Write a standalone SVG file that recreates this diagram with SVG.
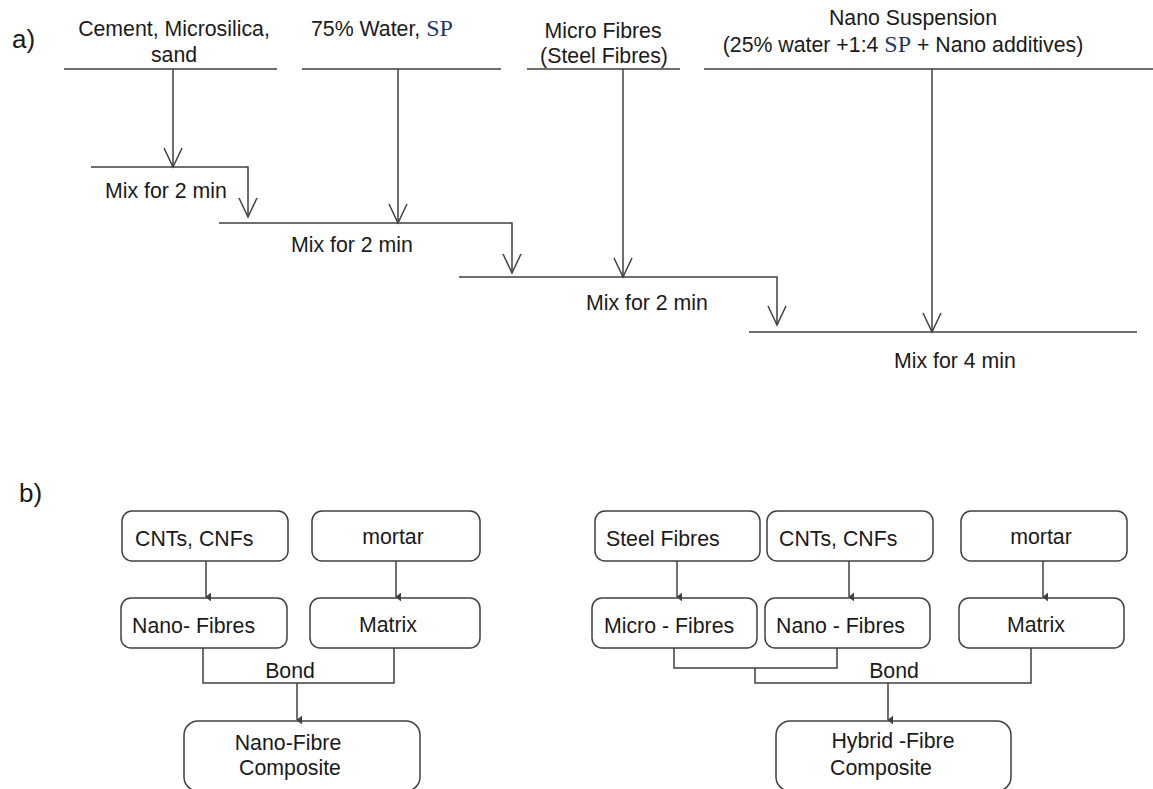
<svg xmlns="http://www.w3.org/2000/svg" width="1153" height="789" viewBox="0 0 1153 789">
<defs>
<style>
text{font-family:"Liberation Sans",Arial,sans-serif;font-size:21.3px;fill:#1a1a1a}
.sp{font-family:"Liberation Serif","Times New Roman",serif;fill:#1f3864;font-size:24px}
.lbl{font-size:26px}
.ln{stroke:#404040;stroke-width:1.5;fill:none}
.box{stroke:#404040;stroke-width:1.5;fill:#fff}
.open{stroke:#404040;stroke-width:1.5;fill:none}
.m{text-anchor:middle}
</style>
<marker id="tri" markerWidth="8" markerHeight="6" refX="4" refY="5" orient="auto-start-reverse" markerUnits="userSpaceOnUse" viewBox="0 0 8 6">
<path d="M0,0 L8,0 L4,5 Z" fill="#404040" stroke="#404040" stroke-width="0.8"/>
</marker>
</defs>
<rect width="1153" height="789" fill="#fff"/>

<text class="lbl" x="12" y="48">a)</text>
<text class="lbl" x="19" y="502">b)</text>

<g id="inputs">
<text class="m" x="174" y="36">Cement, Microsilica,</text>
<text class="m" x="174" y="62">sand</text>
<text x="311" y="36">75% Water, <tspan class="sp">SP</tspan></text>
<text class="m" x="603" y="38">Micro Fibres</text>
<text class="m" x="604" y="63">(Steel Fibres)</text>
<text class="m" x="913" y="25">Nano Suspension</text>
<text class="m" x="903" y="52">(25% water +1:4 <tspan class="sp">SP</tspan> + Nano additives)</text>
</g>

<g id="mix-labels">
<text class="m" x="166" y="198">Mix for 2 min</text>
<text class="m" x="352" y="252">Mix for 2 min</text>
<text class="m" x="647" y="310">Mix for 2 min</text>
<text class="m" x="955" y="368">Mix for 4 min</text>
</g>

<g id="connectors-a">
<path class="ln" d="M64,69H277 M302,69H501 M527,69H680 M704,69H1153"/>
<path class="ln" d="M173,69V167 M91,167H248V217"/>
<path class="ln" d="M398,69V223 M219,223H512V273"/>
<path class="ln" d="M623,69V277 M459,277H777V325"/>
<path class="ln" d="M932,69V332 M749,332H1137"/>
<path class="open" d="M164,148L173,167L182,148 M239,198L248,217L257,198 M389,204L398,223L407,204 M503,254L512,273L521,254 M614,258L623,277L632,258 M768,306L777,325L786,306 M923,313L932,332L941,313"/>
</g>

<g id="node-cnt-l"><rect class="box" x="122" y="511" width="166" height="50" rx="10"/><text x="135" y="546">CNTs, CNFs</text></g>
<g id="node-mortar-l"><rect class="box" x="312" y="511" width="168" height="50" rx="10"/><text class="m" x="393" y="544">mortar</text></g>
<g id="node-nano-l"><rect class="box" x="121" y="598" width="166" height="50" rx="10"/><text x="132" y="633">Nano- Fibres</text></g>
<g id="node-matrix-l"><rect class="box" x="310" y="598" width="170" height="50" rx="10"/><text class="m" x="388" y="632">Matrix</text></g>
<g id="node-comp-l"><rect class="box" x="184" y="721" width="236" height="70" rx="14"/><text class="m" x="288" y="750">Nano-Fibre</text><text class="m" x="290" y="775">Composite</text></g>

<g id="node-steel"><rect class="box" x="595" y="511" width="165" height="50" rx="10"/><text x="606" y="546">Steel Fibres</text></g>
<g id="node-cnt-r"><rect class="box" x="767" y="511" width="166" height="50" rx="10"/><text x="779" y="546">CNTs, CNFs</text></g>
<g id="node-mortar-r"><rect class="box" x="961" y="511" width="166" height="50" rx="10"/><text class="m" x="1041" y="544">mortar</text></g>
<g id="node-micro"><rect class="box" x="592" y="598" width="165" height="50" rx="10"/><text x="604" y="633">Micro - Fibres</text></g>
<g id="node-nano-r"><rect class="box" x="765" y="598" width="165" height="50" rx="10"/><text x="776" y="633">Nano - Fibres</text></g>
<g id="node-matrix-r"><rect class="box" x="959" y="598" width="165" height="50" rx="10"/><text class="m" x="1036" y="632">Matrix</text></g>
<g id="node-comp-r"><rect class="box" x="776" y="721" width="235" height="70" rx="14"/><text class="m" x="893" y="748">Hybrid -Fibre</text><text class="m" x="881" y="775">Composite</text></g>

<g id="connectors-b">
<path class="ln" d="M206,561V597" marker-end="url(#tri)"/>
<path class="ln" d="M396,561V597" marker-end="url(#tri)"/>
<path class="ln" d="M203,648V683H394V648"/>
<path class="ln" d="M297,683V720" marker-end="url(#tri)"/>
<path class="ln" d="M677,561V597" marker-end="url(#tri)"/>
<path class="ln" d="M849,561V597" marker-end="url(#tri)"/>
<path class="ln" d="M1043,561V597" marker-end="url(#tri)"/>
<path class="ln" d="M674,648V668H837V648 M755,668V683H1031V648"/>
<path class="ln" d="M888,683V720" marker-end="url(#tri)"/>
<text class="m" x="290" y="678">Bond</text>
<text class="m" x="894" y="678">Bond</text>
</g>
</svg>
